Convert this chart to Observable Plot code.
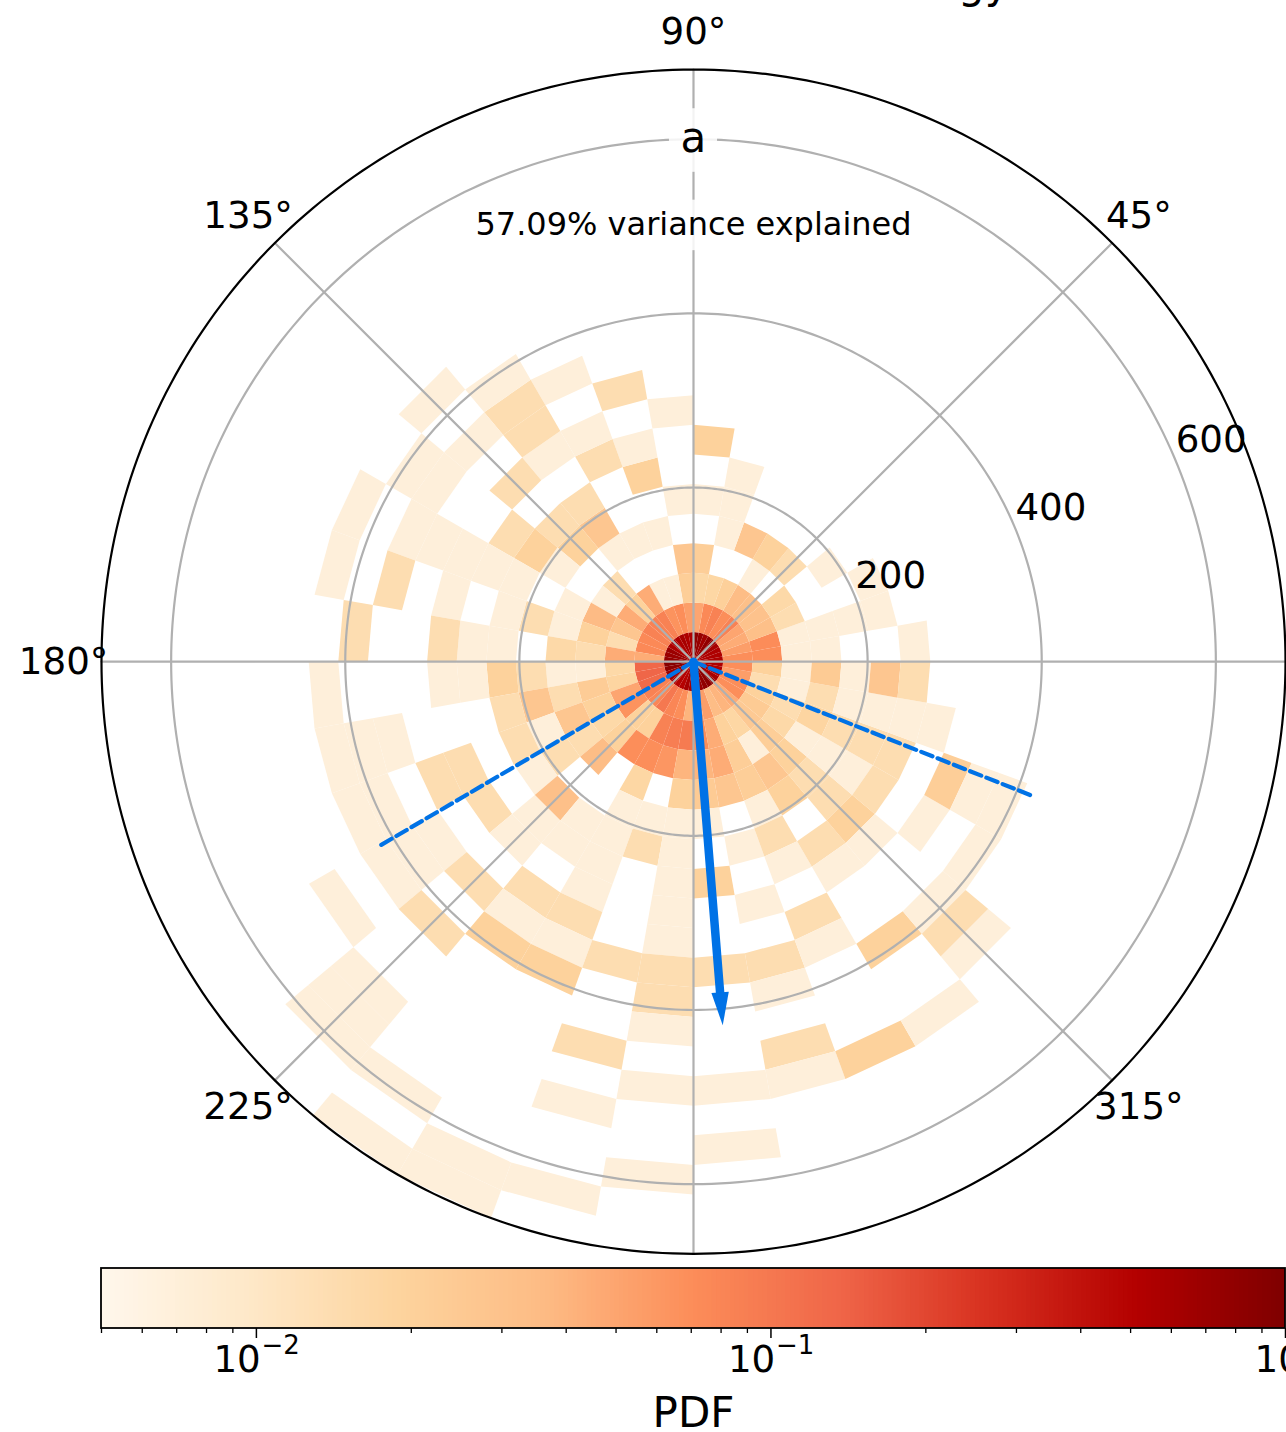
<!DOCTYPE html>
<html><head><meta charset="utf-8">
<style>html,body{margin:0;padding:0;background:#fff;overflow:hidden}svg{display:block}</style>
<script src="https://cdn.jsdelivr.net/npm/d3@7"></script>
<script src="https://cdn.jsdelivr.net/npm/@observablehq/plot@0.6"></script>
</head><body>
<div id="chart"></div>
<script>
// PDF in thousandths, one array per radial bin; each has 36 angular bins of 10 degrees, starting at 0 degrees
const ring0  = [550,550,550,600,750,800,650,750,800,550,550,600,550,600,550,700,700,750,900,850,700,650,550,500,500,600,600,600,700,800,850,800,600,500,550,550];
const ring1  = [70,55,45,50,85,70,85,75,50,55,70,65,85,85,85,75,75,45,130,135,125,85,80,100,80,70,40,60,55,35,40,45,70,70,55,70];
const ring2  = [70,72,32,30,32,35,21,17,16,22,7,7,45,20,45,27,14,45,16,18,50,65,20,20,85,90,95,70,45,20,17,25,24,20,14,20];
const ring3  = [7,7,14,16,0,7,0,0,22,27,0,0,0,14,7,36,20,14,7,23,20,16,20,70,70,62,40,40,45,22,7,22,16,14,7,7];
const ring4  = [7,7,0,0,14,20,27,7,0,0,7,7,7,0,0,7,7,16,7,14,27,14,35,0,17,0,20,24,27,22,27,20,7,18,14,24];
const ring5  = [0,7,0,7,0,0,0,7,7,7,0,0,27,20,7,0,14,0,14,27,7,14,0,0,7,7,7,7,0,7,20,14,7,14,7,7];
const ring6  = [0,7,7,0,0,0,0,7,0,0,20,0,14,14,20,7,7,7,20,14,14,7,32,7,7,14,7,0,7,14,0,14,7,14,7,27];
const ring7  = [7,0,0,0,0,0,0,0,20,0,7,14,0,0,14,7,0,7,7,0,0,0,7,7,7,0,7,20,0,7,14,20,14,14,7,14];
const ring8  = [0,0,0,0,0,0,0,0,0,7,0,7,7,14,0,7,7,14,7,0,14,14,7,0,7,0,7,0,7,0,7,7,0,0,7,0];
const ring9  = [0,0,0,0,0,0,0,0,0,0,14,0,14,0,0,7,0,0,0,0,14,0,0,14,14,0,7,0,0,14,0,0,7,22,0,0];
const ring10 = [0,0,0,0,0,0,0,0,0,0,0,7,14,7,7,7,14,0,0,7,0,7,14,7,7,14,14,14,14,7,0,0,0,7,0,0];
const ring11 = [0,0,0,0,0,0,0,0,0,0,0,0,7,0,7,0,0,14,0,7,7,7,0,20,20,0,14,0,7,0,20,7,7,7,0,0];
const ring12 = [0,0,0,0,0,0,0,0,0,0,0,0,0,7,0,7,7,0,7,7,7,7,14,0,0,0,7,0,0,0,0,14,0,0,0,0];
const ring13 = [0,0,0,0,0,0,0,0,0,0,0,0,0,0,0,0,0,0,0,0,0,0,0,0,0,14,0,0,14,0,0,7,0,0,0,0];
const ring14 = [0,0,0,0,0,0,0,0,0,0,0,0,0,0,0,0,0,0,0,0,0,7,0,0,0,0,7,7,7,20,7,0,0,0,0,0];
const ring15 = [0,0,0,0,0,0,0,0,0,0,0,0,0,0,0,0,0,0,0,0,0,0,7,0,0,7,0,0,0,0,0,0,0,0,0,0];
const ring16 = [0,0,0,0,0,0,0,0,0,0,0,0,0,0,0,0,0,0,0,0,0,0,7,0,0,0,0,7,0,0,0,0,0,0,0,0];
const ring17 = [0,0,0,0,0,0,0,0,0,0,0,0,0,0,0,0,0,0,0,0,0,0,7,7,0,0,7,0,0,0,0,0,0,0,0,0];
const ring18 = [0,0,0,0,0,0,0,0,0,0,0,0,0,0,0,0,0,0,0,0,0,0,0,0,7,7,0,0,0,0,0,0,0,0,0,0];
const ring19 = [0,0,0,0,0,0,0,0,0,0,0,0,0,0,0,0,0,0,0,0,0,0,0,7,7,0,0,0,0,0,0,0,0,0,0,0];
const rings = [ring0,ring1,ring2,ring3,ring4,ring5,ring6,ring7,ring8,ring9,ring10,ring11,ring12,ring13,ring14,ring15,ring16,ring17,ring18,ring19];

const radialBin = 34, angularBin = 10, rMax = 680;
const radialTicks = [200,400,600];
const angleTicks = [0,45,90,135,180,225,270,315];
const angleLabels = [45,90,135,180,225,315];
const meanAngle = 274.6, meanLength = 419;
const spreadAngles = [338.4,210.4];
const spreadLength = 418;

const orRd = ["#fff7ec","#fee8c8","#fdd49e","#fdbb84","#fc8d59","#ef6548","#d7301f","#b30000","#7f0000"];
const colorOpts = {type:"log", domain:[0.005,1], range:orRd, interpolate:"rgb"};
const font = "'DejaVu Sans'";
const blue = "#0072e6";

const pol = (deg,r) => [r*Math.cos(deg*Math.PI/180), r*Math.sin(deg*Math.PI/180)];

const cells = [];
rings.forEach((ring,k) => ring.forEach((v,i) => {
  if (!v) return;
  const t0=i*angularBin, t1=t0+angularBin, r0=k*radialBin, r1=r0+radialBin;
  for (const [t,r] of [[t0,r0],[t1,r0],[t1,r1],[t0,r1]]) {
    const [x,y]=pol(t,r); cells.push({x,y,id:k*100+i,v:v/1000});
  }
}));
const circle = r => d3.range(0,361).map(a => { const [x,y]=pol(a,r); return {x,y,r}; });
const spokes = angleTicks.flatMap(a => [[0,0],pol(a,rMax)].map(([x,y]) => ({x,y,a})));

const tip = pol(meanAngle,meanLength);
const dir = [Math.cos(meanAngle*Math.PI/180), Math.sin(meanAngle*Math.PI/180)];
const headLen = 38, headHalf = 10;
const base = [tip[0]-dir[0]*headLen, tip[1]-dir[1]*headLen];
const head = [tip,[base[0]-dir[1]*headHalf,base[1]+dir[0]*headHalf],[base[0]+dir[1]*headHalf,base[1]-dir[0]*headHalf]].map(([x,y])=>({x,y}));
const shaft = [[0,0],base].map(([x,y])=>({x,y}));
const dashes = spreadAngles.flatMap(a => [[0,0],pol(a,spreadLength)].map(([x,y])=>({x,y,a})));

const angleText = angleLabels.map(a => { const [x,y]=pol(a,723.5); return {x,y,t:a+"°"}; });
const radialText = radialTicks.map(r => { const [x,y]=pol(23,r+46); return {x,y,t:String(r)}; });

const main = Plot.plot({
  width:1286, height:1265, margin:0,
  style:{background:"#fff", fontFamily:font, overflow:"hidden"},
  x:{domain:[-796,681.15], range:[0,1286], axis:null},
  y:{domain:[-692.3,759.3], range:[1264,0], axis:null},
  color:colorOpts,
  marks:[
    Plot.line(cells,{x:"x",y:"y",z:"id",fill:"v",stroke:"none"}),
    ...radialTicks.map(r => Plot.line(circle(r),{x:"x",y:"y",stroke:"#b0b0b0",strokeWidth:2.2})),
    Plot.line(spokes,{x:"x",y:"y",z:"a",stroke:"#b0b0b0",strokeWidth:2.2}),
    Plot.line(circle(rMax),{x:"x",y:"y",stroke:"#000",strokeWidth:2.2}),
    Plot.line(dashes,{x:"x",y:"y",z:"a",stroke:blue,strokeWidth:4.2,strokeDasharray:"12,5.5"}),
    Plot.line(shaft,{x:"x",y:"y",stroke:blue,strokeWidth:8.5}),
    Plot.line(head,{x:"x",y:"y",fill:blue,stroke:"none"}),
    Plot.rect([0],{x1:-27.6,x2:27.6,y1:562,y2:635,fill:"#fff",fillOpacity:0.85}),
    Plot.rect([0],{x1:-262,x2:262,y1:472,y2:530,fill:"#fff",fillOpacity:0.85}),
    Plot.text(angleText,{x:"x",y:"y",text:"t",fontSize:37.2,fill:"#000"}),
    Plot.text(radialText,{x:"x",y:"y",text:"t",fontSize:37.2,dy:-1.5,fill:"#000"}),
    Plot.text(["a"],{x:[0],y:[601],fontSize:42,fill:"#000"}),
    Plot.text(["57.09% variance explained"],{x:[0],y:[502],fontSize:32,fill:"#000"}),
    Plot.text(["energy"],{x:[363],y:[762],fontSize:42,textAnchor:"end",lineAnchor:"bottom",fill:"#000"})
  ]
});

const minorTicks = [.005,.006,.007,.008,.009,.02,.03,.04,.05,.06,.07,.08,.09,.2,.3,.4,.5,.6,.7,.8,.9];
const majorTicks = [.01,.1,1];
const majorExponents = ["−2","−1"];
const baseOffsets = [-43,-43,-31];
const supOffsets = [5,5];
const ramp = d3.range(256).map(i => ({
  x1:0.005*Math.pow(200,i/256), x2:0.005*Math.pow(200,Math.min(i+1.6,256)/256), v:0.005*Math.pow(200,(i+0.5)/256)
}));
const bar = Plot.plot({
  width:1286, height:167, marginTop:3, marginBottom:104, marginLeft:0, marginRight:0,
  style:{background:"#fff", fontFamily:font, overflow:"hidden"},
  x:{type:"log", domain:[0.005,1], range:[101,1285], axis:null},
  y:{domain:[0,1], axis:null},
  color:colorOpts,
  marks:[
    Plot.rect(ramp,{x1:"x1",x2:"x2",y1:0,y2:1,fill:"v"}),
    Plot.rect([0],{x1:0.005,x2:1,y1:0,y2:1,fill:"none",stroke:"#000",strokeWidth:1.8}),
    Plot.axisX({ticks:minorTicks,tickSize:5,tickFormat:()=>"",stroke:"#000",strokeWidth:1.3,label:null}),
    Plot.axisX({ticks:majorTicks,tickSize:10,tickFormat:()=>"",stroke:"#000",strokeWidth:1.5,label:null}),
    ...majorTicks.map((t,i) => Plot.text(["10"],{x:[t],y:[-0.52],dx:baseOffsets[i],textAnchor:"start",fontSize:37.2,fill:"#000"})),
    ...majorExponents.map((e,i) => Plot.text([e],{x:[majorTicks[i]],y:[-0.28],dx:supOffsets[i],textAnchor:"start",fontSize:26,fill:"#000"})),
    Plot.text(["PDF"],{x:[0.0707],y:[-1.417],fontSize:42,fill:"#000"})
  ]
});
const host = document.getElementById("chart");
host.append(main, bar);
</script>
</body></html>
